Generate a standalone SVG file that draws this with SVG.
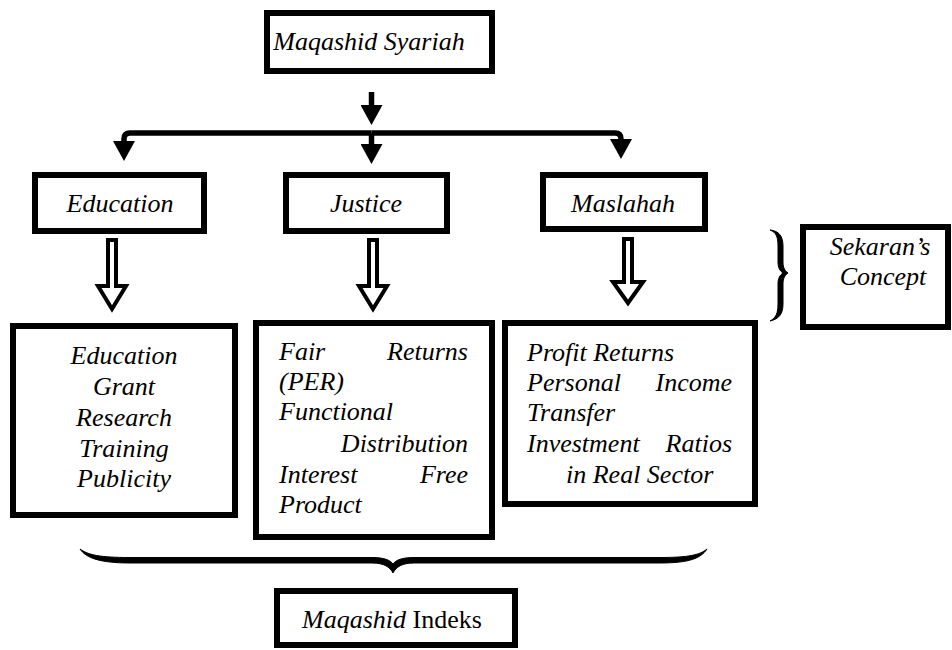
<svg xmlns="http://www.w3.org/2000/svg" width="952" height="650" viewBox="0 0 952 650" font-family="Times New Roman">
  <style>
    .box { fill: #fff; stroke: #000; stroke-width: 6; }
    .wire { fill: none; stroke: #000; stroke-width: 5.5; }
    .hollow { fill: #fff; stroke: #000; stroke-width: 4; }
    .brace { fill: #000; stroke: #000; stroke-width: 1; stroke-linejoin: round; }
  </style>
  <defs>
    <marker id="head" markerUnits="userSpaceOnUse" viewBox="0 0 20 22" markerWidth="20" markerHeight="22" refX="1" refY="11" orient="auto">
      <path d="M0,0 L20,11 L0,22 Z" fill="#000"/>
    </marker>
  </defs>
  <rect width="952" height="650" fill="#fff"/>

  <!-- connectors -->
  <g id="connectors">
    <path class="wire" d="M371.5,92 V106" marker-end="url(#head)"/>
    <path class="wire" d="M371.5,133 H130 Q124,133 124,139 V142" marker-end="url(#head)"/>
    <path class="wire" d="M371.5,133 V145" marker-end="url(#head)"/>
    <path class="wire" d="M371.5,133 H615 Q621,133 621,139 V140" marker-end="url(#head)"/>
    <!-- hollow arrows -->
    <path class="hollow" d="M108,240 H116 V286 H126 L112,309 L98,286 H108 Z"/>
    <path class="hollow" d="M369,240 H377 V286 H387 L373,309 L359,286 H369 Z"/>
    <path class="hollow" d="M624,239 H632 V282 H643 L628,303 L613,282 H624 Z"/>
    <!-- braces -->
    <path class="brace" d="M770,230 C779,231 783,236 783,246 L783,262 C783,268 785,271 788,273 C785,275 783,278 783,284 L783,304 C783,314 779,319 770,321 C776,318 778,313 778,304 L778,284 C778,278 780,275 783,273 C780,271 778,268 778,262 L778,246 C778,237 776,232 770,230 Z"/>
    <path class="brace" d="M80,549 C86,558 100,563 130,563 L372,563 C384,563 390,567 393,573 C396,567 402,563 414,563 L660,563 C690,563 701,558 707,549 C700,555 688,557.5 660,557.5 L414,557.5 C402,557.5 396,560 393,564 C390,560 384,557.5 372,557.5 L130,557.5 C100,557.5 88,555 80,549 Z"/>
  </g>

  <g id="maqashid-syariah">
    <rect class="box" x="267" y="13" width="225" height="58"/>
    <text font-family="Liberation Serif" font-size="26" font-style="italic" text-anchor="middle" x="369" y="50">Maqashid Syariah</text>
  </g>

  <g id="education">
    <rect class="box" x="35" y="175" width="169" height="56"/>
    <text font-family="Liberation Serif" font-size="26" font-style="italic" text-anchor="middle" x="120" y="212">Education</text>
  </g>

  <g id="justice">
    <rect class="box" x="286" y="175" width="161" height="56"/>
    <text font-family="Liberation Serif" font-size="26" font-style="italic" text-anchor="middle" x="366" y="212">Justice</text>
  </g>

  <g id="maslahah">
    <rect class="box" x="543" y="175" width="162" height="54"/>
    <text font-family="Liberation Serif" font-size="26" font-style="italic" text-anchor="middle" x="623" y="212">Maslahah</text>
  </g>

  <g id="sekaran-concept">
    <rect class="box" x="803" y="227" width="145" height="100"/>
    <text font-family="Liberation Serif" font-size="26" font-style="italic" text-anchor="middle" x="880" y="255">Sekaran&#8217;s</text>
    <text font-family="Liberation Serif" font-size="26" font-style="italic" text-anchor="middle" x="883" y="285">Concept</text>
  </g>

  <g id="education-indicators">
    <rect class="box" x="13" y="326" width="222" height="189"/>
    <text font-family="Liberation Serif" font-size="26" font-style="italic" text-anchor="middle" x="124" y="364">Education</text>
    <text font-family="Liberation Serif" font-size="26" font-style="italic" text-anchor="middle" x="124" y="395">Grant</text>
    <text font-family="Liberation Serif" font-size="26" font-style="italic" text-anchor="middle" x="124" y="426">Research</text>
    <text font-family="Liberation Serif" font-size="26" font-style="italic" text-anchor="middle" x="124" y="457">Training</text>
    <text font-family="Liberation Serif" font-size="26" font-style="italic" text-anchor="middle" x="124" y="487">Publicity</text>
  </g>

  <g id="justice-indicators">
    <rect class="box" x="256" y="323" width="236" height="214"/>
    <text font-family="Liberation Serif" font-size="26" font-style="italic" x="279" y="360">Fair</text>
    <text font-family="Liberation Serif" font-size="26" font-style="italic" text-anchor="end" x="468" y="360">Returns</text>
    <text font-family="Liberation Serif" font-size="26" font-style="italic" x="279" y="390">(PER)</text>
    <text font-family="Liberation Serif" font-size="26" font-style="italic" x="279" y="420">Functional</text>
    <text font-family="Liberation Serif" font-size="26" font-style="italic" text-anchor="end" x="468" y="452">Distribution</text>
    <text font-family="Liberation Serif" font-size="26" font-style="italic" x="279" y="483">Interest</text>
    <text font-family="Liberation Serif" font-size="26" font-style="italic" text-anchor="end" x="468" y="483">Free</text>
    <text font-family="Liberation Serif" font-size="26" font-style="italic" x="279" y="513">Product</text>
  </g>

  <g id="maslahah-indicators">
    <rect class="box" x="505" y="323" width="250" height="181"/>
    <text font-family="Liberation Serif" font-size="26" font-style="italic" x="527" y="361">Profit Returns</text>
    <text font-family="Liberation Serif" font-size="26" font-style="italic" x="527" y="391">Personal</text>
    <text font-family="Liberation Serif" font-size="26" font-style="italic" text-anchor="end" x="732" y="391">Income</text>
    <text font-family="Liberation Serif" font-size="26" font-style="italic" x="527" y="421">Transfer</text>
    <text font-family="Liberation Serif" font-size="26" font-style="italic" x="527" y="452">Investment</text>
    <text font-family="Liberation Serif" font-size="26" font-style="italic" text-anchor="end" x="732" y="452">Ratios</text>
    <text font-family="Liberation Serif" font-size="26" font-style="italic" x="566" y="483">in Real Sector</text>
  </g>

  <g id="maqashid-indeks">
    <rect class="box" x="277" y="591" width="238" height="54"/>
    <text font-family="Liberation Serif" font-size="26" x="302" y="628"><tspan font-style="italic">Maqashid</tspan> Indeks</text>
  </g>
</svg>
